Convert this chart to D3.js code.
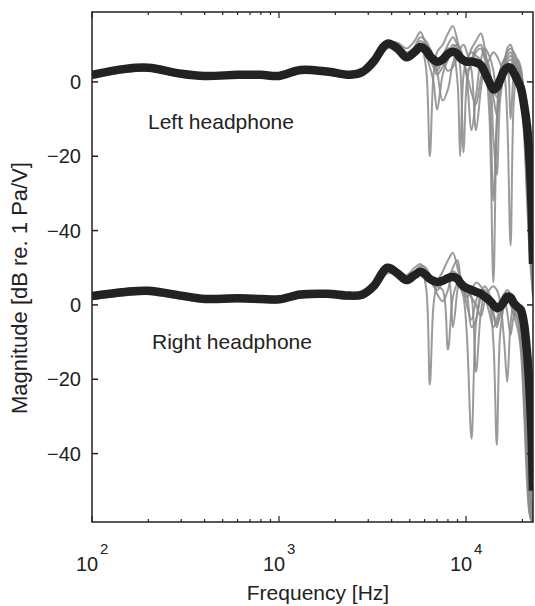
<!DOCTYPE html>
<html>
<head>
<meta charset="utf-8">
<script src="https://cdn.jsdelivr.net/npm/d3@7"></script>
<style>
  body { margin: 0; background: #fff; }
  text { font-family: "Liberation Sans", Arial, Helvetica, sans-serif; fill: #222; }
</style>
</head>
<body>
<script>
// Frequency grid (Hz)
var freqHz = [100, 150, 200, 300, 400, 600, 800, 1000, 1300, 1800, 2400, 2800, 3200, 3800, 4300, 4800,
  5300, 5700, 6100, 6400, 6700, 7000, 7500, 8000, 8500, 9000, 9300, 9700, 10100, 10700, 11300, 12000,
  12600, 13300, 14000, 14600, 15200, 16000, 16600, 17300, 18000, 18800, 19600, 20400, 21200, 21800, 22400, 22800];

// Mean responses (dB re. 1 Pa/V)
var leftMean = [1.9, 3.5, 3.8, 2.2, 1.6, 1.9, 1.9, 1.6, 3.2, 2.8, 1.9, 2.7, 5.5, 10.3, 9.0, 6.6,
  8.0, 9.4, 8.5, 7.0, 6.0, 5.4, 6.0, 7.5, 8.1, 7.5, 6.5, 5.8, 5.4, 5.5, 5.2, 4.5,
  2.5, 0, -2, -1.5, 0.5, 3, 3.8, 3.8, 2.5, 0.5, -1.5, -6, -12, -20, -33, -49];
var rightMean = [2.4, 3.5, 3.8, 2.5, 1.6, 1.8, 1.6, 1.5, 2.8, 3.0, 2.5, 2.8, 5.0, 10.0, 8.5, 6.7,
  8.0, 8.9, 8.0, 7.0, 6.5, 6.2, 6.5, 7.2, 7.5, 7.0, 6.0, 5.0, 4.5, 4.0, 3.5, 3.0,
  2.2, 1.3, 0.0, -0.8, -0.5, 1.0, 2.2, 2.0, 0.5, -0.5, -1.3, -5, -13, -22, -35, -50];

// Individual measurements, left headphone
var leftSubjects = [
  [1.2, 2.8, 3.2, 1.6, 1.0, 1.2, 1.3, 1.0, 2.5, 2.2, 1.3, 2.0, 5, 9.5, 9.8, 6, 8.5, 10, 4, -20, 2, 8, 10, 13, 15, 11, 8, 6, 3, 5, 8, 9, 6, 3, -2, -4, 1, 5, 7, 8, 6, 4, 2, -10, -30, -42, -50, -55],
  [1.5, 3.0, 3.3, 1.8, 1.2, 1.5, 1.4, 1.2, 2.7, 2.4, 1.5, 2.3, 4.5, 10, 10.5, 9, 11, 13.4, 10, 8, 5, 3, 6, 9, 8, 0, -20, 2, 6, 8, 7, 6, 4, 6, 8, 7, 5, 2, -10, -44, -5, 4, 0, -8, -25, -40, -50, -56],
  [1.0, 2.6, 3.0, 1.4, 0.9, 1.1, 1.1, 0.9, 2.3, 2.0, 1.1, 1.9, 4, 9, 8.5, 7, 7.5, 9, 7, 4, 0, -7.5, 2, 6, 9, 10, 8, 7, 6, 9, 11, 13, 9, 0, -32, -10, 3, 6, 8, 9, 8, 6, 3, -3, -20, -38, -48, -55],
  [1.4, 3.1, 3.4, 1.9, 1.3, 1.6, 1.6, 1.3, 2.8, 2.5, 1.6, 2.4, 5, 10, 9, 7, 8, 9, 9, 8, 7, 6, 5, 3, 4, 7, 9, 10, 8, 3, -13, -2, 5, -8, -54, -12, 0, 4, 6, 7, 5, 2, -2, -12, -28, -42, -52, -57],
  [1.6, 3.2, 3.5, 2.0, 1.4, 1.7, 1.7, 1.4, 2.9, 2.6, 1.7, 2.5, 5.5, 10.5, 10, 8, 9, 11, 10, 9, 7, 3, -5, -2, 5, 8, 4, -19, 0, 6, 9, 10, 7, 4, -15, -25, -5, 3, 9, 10, 7, 5, 1, -6, -22, -36, -46, -52],
  [1.3, 2.9, 3.1, 1.7, 1.1, 1.3, 1.3, 1.1, 2.6, 2.3, 1.4, 2.1, 4.8, 9.8, 9.5, 6.5, 7.5, 9, 8, 6, 4, 2, 4, 7, 10, 9, 7, 5, 2, -3, -6, 1, 4, 2, -4, -9, -3, 2, 5, 6, 4, 1, -4, -14, -32, -45, -53, -58],
  [1.7, 3.3, 3.6, 2.1, 1.5, 1.8, 1.8, 1.5, 3.0, 2.7, 1.8, 2.6, 5.2, 10.2, 9.2, 7.5, 9.5, 12, 11, 9, 6, 4, 7, 10, 12, 10, 9, 6, 1, -13, -4, 6, 9, 7, 3, -3, 2, 6, 5, -10, 2, 6, 4, -5, -18, -32, -45, -53]
];

// Individual measurements, right headphone
var rightSubjects = [
  [1.7, 2.8, 3.1, 1.8, 1.0, 1.2, 1.0, 0.9, 2.1, 2.3, 1.8, 2.1, 4.5, 9, 8.5, 6, 8, 10, 5, -21.5, 0, 6, 9, 12, 14, 10, 7, 4, 2, 4, 6, 5, 3, 1, -3, -6, -2, 1, 3, 2, -1, -3, -6, -15, -35, -48, -55, -58],
  [2.0, 3.0, 3.3, 2.0, 1.2, 1.4, 1.2, 1.1, 2.4, 2.5, 2.0, 2.3, 5, 9.5, 9, 8, 10, 11, 9, 7, 5, 4, 6, 8, 9, 8, 5, 2, -8, -36, -5, 3, 5, 3, 0, -2, 1, 3, 4, 3, 1, -2, -8, -20, -40, -52, -57, -58],
  [1.5, 2.6, 2.9, 1.6, 0.8, 1.0, 0.8, 0.7, 1.9, 2.1, 1.6, 1.9, 4, 8.5, 8, 6.5, 7.5, 8.5, 7.5, 6.5, 6, 5, 4, -12, 2, 6, 7, 6, 5, 2, -18, -2, 3, 1, -10, -37.7, -8, 0, 2, 1, -2, -4, -10, -25, -45, -55, -58, -58],
  [1.8, 2.9, 3.2, 1.9, 1.1, 1.3, 1.1, 1.0, 2.2, 2.4, 1.9, 2.2, 4.8, 9.8, 9.2, 7, 8.5, 9.5, 8, 7, 6.5, 6.5, 7, 8, -6, 4, 7, 6, 4, 2, 0, -3, 1, 4, 5, 4, 1, -10, -20.7, -5, 0, -1, -5, -14, -32, -46, -54, -58],
  [1.6, 2.7, 3.0, 1.7, 0.9, 1.1, 0.9, 0.8, 2.0, 2.2, 1.7, 2.0, 4.2, 9, 8.8, 7.2, 9, 10.5, 10, 8, 6, 3, 1, 4, 10, 12, 8, 4, 0, -4, 1, 4, 2, -2, -6, -4, 0, 2, -2, -8, -3, -1, -3, -9, -25, -40, -52, -58],
  [1.9, 3.1, 3.4, 2.1, 1.3, 1.5, 1.3, 1.2, 2.5, 2.6, 2.1, 2.4, 5.2, 10.2, 9.5, 7.5, 8, 9, 8.5, 7.5, 7, 6.5, 7, 7.5, 8, 7, 6, 5, 3, -6, -4, 2, 4, 2, -2, -5, -3, 0, 1, 0, -3, -6, -12, -28, -48, -56, -58, -58]
];

var yTickValues = [0, -20, -40];
var xMajorTicks = [100, 1000, 10000];
var xMinorTicks = [200, 300, 400, 500, 600, 700, 800, 900, 2000, 3000, 4000, 5000, 6000, 7000, 8000, 9000, 20000];
var leftOffset = 60; // left headphone curves are shifted up by 60 dB

var W = 535, H = 606;
var plot = {left: 92, right: 533, top: 12, bottom: 522};

var svg = d3.select("body").append("svg")
  .attr("width", W)
  .attr("height", H);

var x = d3.scaleLog().domain([100, 22800]).range([plot.left, plot.right]);
var y = d3.scaleLinear().domain([-58.4, 78.8]).range([plot.bottom, plot.top]);

svg.append("clipPath").attr("id", "clip")
  .append("rect")
  .attr("x", plot.left).attr("y", plot.top)
  .attr("width", plot.right - plot.left).attr("height", plot.bottom - plot.top);

var g = svg.append("g").attr("clip-path", "url(#clip)");

function lineFor(offset) {
  return d3.line()
    .x(function (d, i) {return x(freqHz[i]);})
    .y(function (d) {return y(d + offset);})
    .curve(d3.curveCatmullRom.alpha(0.5));
}

// gray individual curves
g.selectAll(".left-ind").data(leftSubjects).enter().append("path")
  .attr("class", "left-ind")
  .attr("d", lineFor(leftOffset))
  .attr("fill", "none").attr("stroke", "#8a8a8a").attr("stroke-width", 2).attr("stroke-opacity", 0.85);

g.selectAll(".right-ind").data(rightSubjects).enter().append("path")
  .attr("class", "right-ind")
  .attr("d", lineFor(0))
  .attr("fill", "none").attr("stroke", "#8a8a8a").attr("stroke-width", 2).attr("stroke-opacity", 0.85);

// mean curves
g.append("path").datum(leftMean)
  .attr("d", lineFor(leftOffset))
  .attr("fill", "none").attr("stroke", "#222").attr("stroke-width", 8.5)
  .attr("stroke-linejoin", "round");

g.append("path").datum(rightMean)
  .attr("d", lineFor(0))
  .attr("fill", "none").attr("stroke", "#222").attr("stroke-width", 8.5)
  .attr("stroke-linejoin", "round");

// box
svg.append("rect")
  .attr("x", plot.left).attr("y", plot.top)
  .attr("width", plot.right - plot.left).attr("height", plot.bottom - plot.top)
  .attr("fill", "none").attr("stroke", "#222").attr("stroke-width", 1.5);

// y ticks (both groups, inward, both sides)
var yAll = [];
yTickValues.forEach(function (v) {yAll.push({v: v, pos: v}); yAll.push({v: v, pos: v + leftOffset});});

svg.selectAll(".ytick-l").data(yAll).enter().append("line")
  .attr("x1", plot.left).attr("x2", plot.left + 6)
  .attr("y1", function (d) {return y(d.pos);}).attr("y2", function (d) {return y(d.pos);})
  .attr("stroke", "#222").attr("stroke-width", 1.5);
svg.selectAll(".ytick-r").data(yAll).enter().append("line")
  .attr("x1", plot.right).attr("x2", plot.right - 6)
  .attr("y1", function (d) {return y(d.pos);}).attr("y2", function (d) {return y(d.pos);})
  .attr("stroke", "#222").attr("stroke-width", 1.5);

svg.selectAll(".ylab").data(yAll).enter().append("text")
  .attr("x", plot.left - 11)
  .attr("y", function (d) {return y(d.pos);})
  .attr("dy", "0.36em")
  .attr("text-anchor", "end")
  .style("font-size", "20px")
  .text(function (d) {return d.v === 0 ? "0" : "\u2212" + Math.abs(d.v);});

// x ticks, bottom and top
function xTicks(vals, len) {
  svg.selectAll(null).data(vals).enter().append("line")
    .attr("x1", function (d) {return x(d);}).attr("x2", function (d) {return x(d);})
    .attr("y1", plot.bottom).attr("y2", plot.bottom - len)
    .attr("stroke", "#222").attr("stroke-width", 1.2);
  svg.selectAll(null).data(vals).enter().append("line")
    .attr("x1", function (d) {return x(d);}).attr("x2", function (d) {return x(d);})
    .attr("y1", plot.top).attr("y2", plot.top + len)
    .attr("stroke", "#222").attr("stroke-width", 1.2);
}
xTicks(xMajorTicks, 6);
xTicks(xMinorTicks, 3);

var xl = svg.selectAll(".xlab").data(xMajorTicks).enter().append("g")
  .attr("transform", function (d) {return "translate(" + x(d) + ",0)";});
xl.append("text")
  .attr("x", -5).attr("y", 571)
  .attr("text-anchor", "middle")
  .style("font-size", "20px")
  .text("10");
xl.append("text")
  .attr("x", 8).attr("y", 554)
  .attr("text-anchor", "start")
  .style("font-size", "15px")
  .text(function (d) {return Math.round(Math.log10(d));});

// labels
svg.append("text")
  .attr("x", 318).attr("y", 600)
  .attr("text-anchor", "middle")
  .style("font-size", "21px")
  .text("Frequency [Hz]");

svg.append("text")
  .attr("transform", "translate(27,288) rotate(-90)")
  .attr("text-anchor", "middle")
  .style("font-size", "22px")
  .text("Magnitude [dB re. 1 Pa/V]");

svg.append("text")
  .attr("x", 148).attr("y", 129)
  .style("font-size", "21px")
  .text("Left headphone");

svg.append("text")
  .attr("x", 152).attr("y", 349)
  .style("font-size", "21px")
  .text("Right headphone");
</script>
</body>
</html>
